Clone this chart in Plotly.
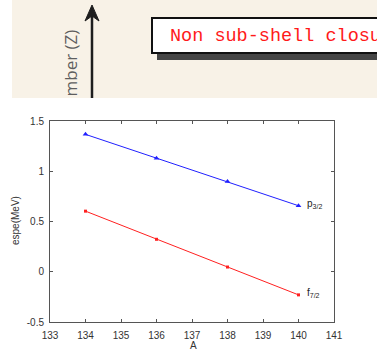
import plotly.graph_objects as go

# ---- data ----
A = [134, 136, 138, 140]
p32 = [1.367, 1.130, 0.897, 0.657]
f72 = [0.603, 0.323, 0.047, -0.230]
xticks = [133, 134, 135, 136, 137, 138, 139, 140, 141]
yticks = [-0.5, 0, 0.5, 1, 1.5]
yticktext = ["-0.5", "0", "0.5", "1", "1.5"]

W, H = 377, 351
L, R, T, B = 50, 43, 121, 29
PW, PH = W - L - R, H - T - B


def px(x):
    return (x - L) / PW


def py(y):
    return (H - B - y) / PH


fig = go.Figure()
fig.add_trace(go.Scatter(x=A, y=p32, mode="lines+markers",
                         line=dict(color="#2020ff", width=1),
                         marker=dict(symbol="triangle-up", size=5, color="#2020ff"),
                         showlegend=False))
fig.add_trace(go.Scatter(x=A, y=f72, mode="lines+markers",
                         line=dict(color="#ff2020", width=1),
                         marker=dict(symbol="square", size=3, color="#ff2020"),
                         showlegend=False))

shapes = []
# top slide fragment
shapes.append(dict(type="rect", xref="paper", yref="paper", layer="above",
                   x0=px(12), x1=px(380), y0=py(98), y1=py(-2),
                   fillcolor="#f8f2e7", line=dict(width=0)))
# arrow shaft
shapes.append(dict(type="line", xref="paper", yref="paper", layer="above",
                   x0=px(92), x1=px(92), y0=py(98), y1=py(14),
                   line=dict(color="#1e1e1e", width=2.5)))
# arrow head
shapes.append(dict(type="path", xref="paper", yref="paper", layer="above",
                   path="M {} {} L {} {} Q {} {} {} {} Q {} {} {} {} Z".format(
                       px(92), py(5), px(99), py(21), px(92), py(16),
                       px(92), py(16), px(92), py(16), px(85), py(21)),
                   fillcolor="#1e1e1e", line=dict(color="#1e1e1e", width=1)))
# box shadow
shapes.append(dict(type="rect", xref="paper", yref="paper", layer="above",
                   x0=px(157), x1=px(390), y0=py(60), y1=py(24),
                   fillcolor="#454545", line=dict(width=0)))
# box
shapes.append(dict(type="rect", xref="paper", yref="paper", layer="above",
                   x0=px(152), x1=px(390), y0=py(53), y1=py(18),
                   fillcolor="white", line=dict(color="#111111", width=2)))

tfont = dict(family="Liberation Sans", size=10, color="#333")
annotations = [
    dict(xref="paper", yref="paper", x=px(168), y=py(36), xanchor="left", yanchor="middle",
         text="Non sub-shell closu", showarrow=False,
         font=dict(family="Liberation Mono", size=18.5, color="#ff1a1a")),
    dict(xref="paper", yref="paper", x=px(70), y=py(99), xanchor="center", yanchor="bottom",
         text="mber (Z)", textangle=-90, showarrow=False,
         font=dict(family="Open Sans", size=17, color="#5e5e5e")),
    dict(xref="paper", yref="paper", x=px(193), y=py(345), xanchor="center", yanchor="middle",
         text="A", showarrow=False, font=tfont),
    dict(xref="paper", yref="paper", x=px(15), y=py(221), xanchor="center", yanchor="middle",
         text="espe(MeV)", textangle=-90, showarrow=False, font=tfont),
    dict(x=A[-1], y=p32[-1], xref="x", yref="y", xanchor="left", yanchor="middle",
         xshift=6, yshift=2, text="p<sub>3/2</sub>", showarrow=False,
         font=dict(family="Liberation Sans", size=10, color="#222")),
    dict(x=A[-1], y=f72[-1], xref="x", yref="y", xanchor="left", yanchor="middle",
         xshift=6, yshift=2, text="f<sub>7/2</sub>", showarrow=False,
         font=dict(family="Liberation Sans", size=10, color="#222")),
]

axis_common = dict(showgrid=False, zeroline=False, showline=True, linecolor="#555",
                   linewidth=1, ticks="inside", ticklen=3, tickcolor="#555",
                   mirror="ticks", automargin=False,
                   tickfont=dict(family="Liberation Sans", size=10, color="#333"))

fig.update_layout(
    width=W, height=H,
    margin=dict(l=L, r=R, t=T, b=B, pad=0, autoexpand=False),
    paper_bgcolor="white", plot_bgcolor="white",
    xaxis=dict(range=[133, 141], tickvals=xticks, ticklabelstandoff=4, **axis_common),
    yaxis=dict(range=[-0.5, 1.5], tickvals=yticks, ticktext=yticktext,
               ticklabelstandoff=3, **axis_common),
    shapes=shapes,
    annotations=annotations,
)

fig.write_html("out.html")
